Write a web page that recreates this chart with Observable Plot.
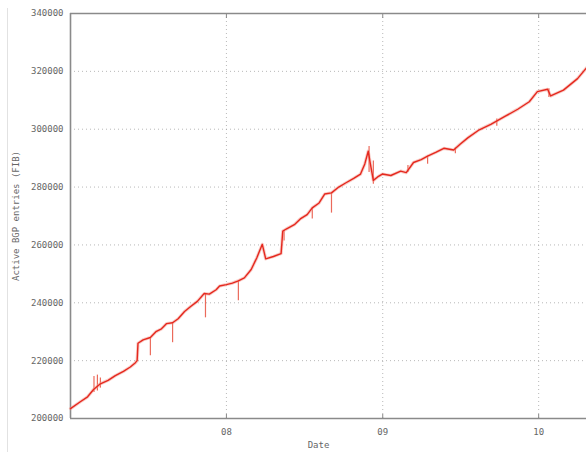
<!DOCTYPE html>
<html><head><meta charset="utf-8">
<script src="https://cdn.jsdelivr.net/npm/d3@7"></script>
<script src="https://cdn.jsdelivr.net/npm/@observablehq/plot@0.6"></script>
<style>
body{margin:0;background:#fff;}
#chart{position:relative;width:586px;height:452px;overflow:hidden;}
#edge{position:absolute;left:7px;top:8px;bottom:0;border-left:1px solid #e2e2e2;}
#chart svg{position:absolute;left:0;top:0;}
</style></head><body><div id="chart"><div id="edge"></div></div>
<script>
// Active BGP entries (FIB) over time
const dates = ["2007-01-01","2007-01-24","2007-02-10","2007-02-24","2007-03-12","2007-03-30","2007-04-16","2007-05-05","2007-05-21","2007-06-02","2007-06-06","2007-06-08","2007-06-20","2007-07-07","2007-07-20","2007-08-02","2007-08-14","2007-08-28","2007-09-10","2007-09-25","2007-10-10","2007-10-25","2007-11-10","2007-11-22","2007-12-08","2007-12-16","2008-01-01","2008-01-15","2008-01-29","2008-02-12","2008-02-28","2008-03-12","2008-03-25","2008-04-02","2008-04-20","2008-05-08","2008-05-12","2008-05-20","2008-06-08","2008-06-22","2008-07-08","2008-07-20","2008-08-05","2008-08-18","2008-09-03","2008-09-20","2008-10-06","2008-10-25","2008-11-10","2008-11-20","2008-11-28","2008-12-03","2008-12-10","2008-12-20","2008-12-31","2009-01-20","2009-02-12","2009-02-25","2009-03-14","2009-04-01","2009-04-16","2009-05-05","2009-05-24","2009-06-16","2009-07-01","2009-07-19","2009-08-15","2009-09-11","2009-10-15","2009-11-13","2009-12-10","2009-12-29","2010-01-22","2010-01-29","2010-02-28","2010-04-02","2010-04-23"];
const values = [203400,205800,207500,210000,212000,213200,214800,216300,217800,219300,220000,226000,227200,228000,230000,231000,232800,233100,234500,237000,238800,240500,243200,243000,244500,245800,246300,246800,247600,248600,251500,255500,260200,255200,256000,257000,264800,265500,267000,269000,270500,272800,274500,277600,278000,280000,281400,283000,284500,288000,292400,288000,282300,283500,284500,284000,285500,285000,288500,289500,290700,292000,293400,292800,294800,297000,299800,301700,304500,306900,309500,313000,313800,311500,313500,317500,321200];

// short outage spikes
const spikeDates = ["2007-02-25","2007-03-05","2007-03-12","2007-07-07","2007-08-28","2007-11-13","2008-01-29","2008-05-15","2008-07-20","2008-09-03","2008-11-30","2008-12-10","2009-03-01","2009-04-16","2009-06-20","2009-09-25","2010-01-25"];
const spikeLow  = [209000,209500,210500,221700,226200,234800,240700,261400,269000,271000,285000,281000,285000,287900,291500,301000,311000];
const spikeHigh = [214500,215000,214000,228000,233100,243200,247600,265000,272800,278000,294000,289000,287500,290700,293500,303500,314000];

const yTicks = [200000,220000,240000,260000,280000,300000,320000,340000];
const xTickDates = ["2008-01-01","2009-01-01","2010-01-01"];
const xTickLabels = ["08","09","10"];
const xDomain = ["2007-01-01","2010-04-23"];

const series = dates.map((d,i)=>({date:new Date(d), value:values[i]}));
const spikes = spikeDates.map((d,i)=>({date:new Date(d), lo:spikeLow[i], hi:spikeHigh[i]}));
const xTicks = xTickDates.map(d=>new Date(d));
const labelOf = new Map(xTicks.map((d,i)=>[+d, xTickLabels[i]]));
const x0 = new Date(xDomain[0]);

const chart = Plot.plot({
  width: 586, height: 452,
  marginLeft: 70, marginRight: 0, marginTop: 13, marginBottom: 34,
  style: {fontFamily: "'DejaVu Sans Mono', monospace", fontSize: "9px", color: "#666", background: "transparent"},
  x: {type: "utc", domain: xDomain.map(d=>new Date(d))},
  y: {domain: [200000, 340000]},
  marks: [
    Plot.gridY(yTicks, {stroke: "#9a9a9a", strokeOpacity: 0.7, strokeDasharray: "1,3"}),
    Plot.gridX(xTicks, {stroke: "#9a9a9a", strokeOpacity: 0.7, strokeDasharray: "1,3"}),
    Plot.axisY(yTicks, {tickSize: 0, tickPadding: 7, tickFormat: d=>String(d), label: "Active BGP entries (FIB)", labelAnchor: "center", labelOffset: 58, labelArrow: "none", fontSize: 9, fill: "#666"}),
    Plot.axisX(xTicks, {tickSize: 0, tickPadding: 10, tickFormat: d=>labelOf.get(+d), label: null, fill: "#666"}),
    Plot.axisX(xTicks, {tickSize: -4, text: null, stroke: "#888", label: null}),
    Plot.axisX(xTicks, {anchor: "top", tickSize: -4, text: null, stroke: "#888", label: null}),
    Plot.ruleY([200000, 340000], {stroke: "#8a8a8a", strokeWidth: 1.6}),
    Plot.ruleX([x0], {stroke: "#8a8a8a", strokeWidth: 1.6}),
    Plot.ruleX(spikes, {x: "date", y1: "lo", y2: "hi", stroke: "#e8503e", strokeWidth: 1.2, strokeOpacity: 0.85}),
    Plot.line(series, {x: "date", y: "value", stroke: "#f29a90", strokeWidth: 3.2, strokeOpacity: 0.5}),
    Plot.line(series, {x: "date", y: "value", stroke: "#e5281e", strokeWidth: 1.4}),
    Plot.text(["Date"], {frameAnchor: "bottom", dy: 29, dx: -10, fontSize: 9, fill: "#666"})
  ]
});
document.getElementById("chart").appendChild(chart);
</script>
</body></html>
